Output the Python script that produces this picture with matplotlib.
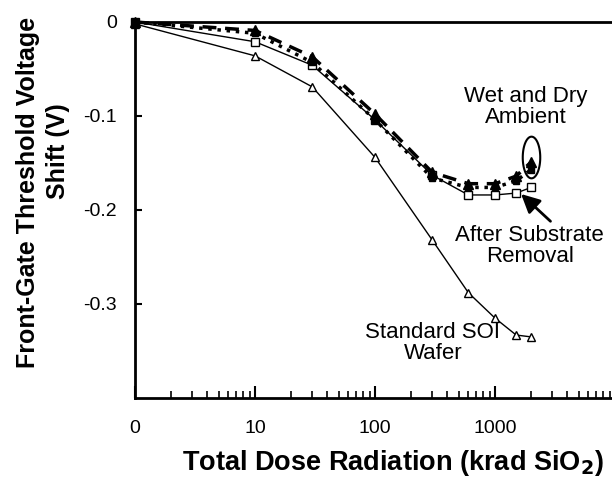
import numpy as np
import matplotlib
matplotlib.use("Agg")
import matplotlib.pyplot as plt
from matplotlib.path import Path
from matplotlib.ticker import FixedLocator, FixedFormatter, LogLocator, NullFormatter

plt.rcParams['font.family'] = ['Liberation Sans', 'DejaVu Sans']

# total dose (krad SiO2); 0 is drawn at the left edge of the log axis
dose = np.array([0, 10, 30, 100, 300, 600, 1000, 1500, 2000])
soi_wafer = [-0.002, -0.036, -0.069, -0.144, -0.232, -0.288, -0.315, -0.333, -0.335]
after_removal = [0.0, -0.021, -0.046, -0.104, -0.163, -0.184, -0.184, -0.182, -0.176]
wet_ambient = [0.0, -0.009, -0.037, -0.098, -0.160, -0.172, -0.172, -0.164, -0.149]
dry_ambient = [0.0, -0.012, -0.043, -0.104, -0.166, -0.176, -0.176, -0.169, -0.157]

x_ticks = [1, 10, 100, 1000, 10000]
x_tick_labels = ['0', '10', '100', '1000', '']
y_ticks = [0, -0.1, -0.2, -0.3]
y_tick_labels = ['0', '-0.1', '-0.2', '-0.3']

x = np.where(dose == 0, 1, dose)

fig = plt.figure(figsize=(6.12, 4.79), dpi=100)
ax = fig.add_axes([135 / 612, 81 / 479, 480 / 612, 376 / 479])

ax.plot(x, soi_wafer, '-', color='k', lw=1.0, marker='^', ms=6,
        mfc='white', mec='k', mew=1.0, clip_on=False, zorder=3)
ax.plot(x, after_removal, '-', color='k', lw=1.0, marker='s', ms=6,
        mfc='white', mec='k', mew=1.0, clip_on=False, zorder=3)
ax.plot(x, dry_ambient, ':', color='k', lw=2.5, marker='s', ms=5,
        mfc='k', mec='k', clip_on=False, zorder=4)
ax.plot(x, wet_ambient, '--', color='k', lw=2.5, marker='^', ms=7,
        mfc='k', mec='k', clip_on=False, zorder=4, dashes=(4, 2.5))

# ellipse around the last wet/dry points
t = np.linspace(0, 2 * np.pi, 80)
oval = Path(np.column_stack([0.42 * np.cos(t), np.sin(t)]))
ax.plot([2000], [-0.1436], marker=oval, ms=30, mfc='none', mec='k',
        mew=1.5, ls='none', zorder=5)

ax.annotate('', xy=(1650, -0.183), xytext=(2900, -0.212),
            arrowprops=dict(arrowstyle='-|>', color='k', lw=2,
                            mutation_scale=28, shrinkA=0, shrinkB=0))

ax.text(1800, -0.0905, 'Wet and Dry\nAmbient', ha='center', va='center',
        fontsize=16, linespacing=1.0)
ax.text(1950, -0.2385, 'After Substrate\nRemoval', ha='center', va='center',
        fontsize=16, linespacing=1.0)
ax.text(304, -0.3412, 'Standard SOI\nWafer', ha='center', va='center',
        fontsize=16, linespacing=1.0)

ax.set_xscale('log')
ax.set_xlim(1, 10000)
ax.set_ylim(-0.4, 0)

ax.xaxis.set_major_locator(FixedLocator(x_ticks))
ax.xaxis.set_major_formatter(FixedFormatter(x_tick_labels))
ax.xaxis.set_minor_locator(LogLocator(base=10, subs=np.arange(2, 10)))
ax.xaxis.set_minor_formatter(NullFormatter())
ax.yaxis.set_major_locator(FixedLocator(y_ticks))
ax.yaxis.set_major_formatter(FixedFormatter(y_tick_labels))

ax.tick_params(axis='x', which='major', direction='in', length=9, width=1.5,
               pad=16, labelsize=14, top=False)
ax.tick_params(axis='x', which='minor', direction='in', length=5, width=1.2,
               top=False)
ax.tick_params(axis='y', which='major', direction='in', length=5, width=1.5,
               pad=13, labelsize=14, right=False)

for side in ['left', 'bottom', 'top']:
    ax.spines[side].set_linewidth(2)
ax.spines['right'].set_visible(False)

fig.text(393 / 612, 1 - 463 / 479, 'Total Dose Radiation (krad SiO$_\\mathbf{2}$)',
         ha='center', va='center', fontsize=19.5, fontweight='bold')
fig.text(28 / 612, 1 - 192 / 479, 'Front-Gate Threshold Voltage', rotation=90,
         ha='center', va='center', fontsize=18, fontweight='bold')
fig.text(58 / 612, 1 - 151 / 479, 'Shift (V)', rotation=90,
         ha='center', va='center', fontsize=18, fontweight='bold')

fig.savefig('out.png', dpi=100)
